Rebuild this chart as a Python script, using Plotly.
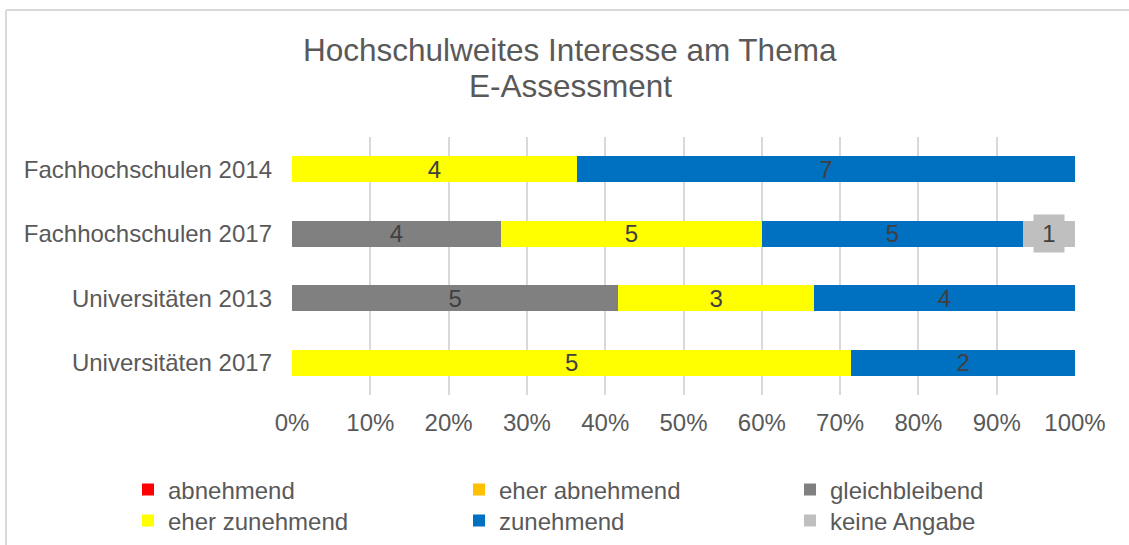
import plotly.graph_objects as go

# ---- data ----
categories = ["Fachhochschulen 2014", "Fachhochschulen 2017", "Universitäten 2013", "Universitäten 2017"]
series_names = ["abnehmend", "eher abnehmend", "gleichbleibend", "eher zunehmend", "zunehmend", "keine Angabe"]
abnehmend = [0, 0, 0, 0]
eher_abnehmend = [0, 0, 0, 0]
gleichbleibend = [0, 4, 5, 0]
eher_zunehmend = [4, 5, 3, 5]
zunehmend = [7, 5, 4, 2]
keine_angabe = [0, 1, 0, 0]
x_ticks = [0, 10, 20, 30, 40, 50, 60, 70, 80, 90, 100]
title_lines = ["Hochschulweites Interesse am Thema", "E-Assessment"]

series_values = [abnehmend, eher_abnehmend, gleichbleibend, eher_zunehmend, zunehmend, keine_angabe]
colors = ["#FF0000", "#FFC000", "#808080", "#FFFF00", "#0070C0", "#BFBFBF"]

W, H = 1129, 545
L, R, T, B = 292, 54, 137, 150
PW, PH = W - L - R, H - T - B


def px_x(px):
    return (px - L) / PW


def px_y(py):
    return 1 - (py - T) / PH


TXT = "#595959"
LAB = "#404040"
FONT = "Liberation Sans, Arial, sans-serif"
FS = 24

fig = go.Figure()
for i, (name, vals, col) in enumerate(zip(series_names, series_values, colors)):
    is_last = name == "keine Angabe"
    texts = ["" if (v == 0 or is_last) else str(v) for v in vals]
    fig.add_trace(go.Bar(
        y=categories, x=vals, name=name, orientation="h",
        marker=dict(color=col, line=dict(width=0)),
        text=texts, textposition="inside", insidetextanchor="middle",
        textangle=0, constraintext="none",
        textfont=dict(color=LAB, size=FS, family=FONT),
        legend="legend" if i < 3 else "legend2",
        hoverinfo="skip",
    ))

annotations = []
# label with background for the small "keine Angabe" segment
for ci, cat in enumerate(categories):
    v = keine_angabe[ci]
    if v:
        total = sum(s[ci] for s in series_values)
        before = sum(s[ci] for s in series_values[:-1])
        xc = (before + v / 2) / total * 100
        annotations.append(dict(
            x=xc, y=cat, xref="x", yref="y", text=str(v), showarrow=False,
            bgcolor="#BFBFBF", font=dict(color=LAB, size=FS, family=FONT),
            width=20, borderpad=5,
        ))

# two-line title
for txt, yc in zip(title_lines, [50, 86]):
    annotations.append(dict(
        x=px_x(570), y=px_y(yc), xref="paper", yref="paper", text=txt,
        showarrow=False, xanchor="center", yanchor="middle",
        font=dict(size=31.5, color=TXT, family=FONT),
    ))

legend_common = dict(
    orientation="h", xanchor="left", yanchor="middle",
    traceorder="normal",
    entrywidth=286, entrywidthmode="pixels",
    font=dict(size=FS, color=TXT, family=FONT),
    bgcolor="rgba(0,0,0,0)", itemclick=False, itemdoubleclick=False,
)

fig.update_layout(
    width=W, height=H,
    margin=dict(l=L, r=R, t=T, b=B, autoexpand=False),
    paper_bgcolor="white", plot_bgcolor="white",
    barmode="stack", barnorm="percent", bargap=0.595,
    font=dict(family=FONT, color=TXT, size=FS),
    showlegend=True,
    xaxis=dict(
        range=[0, 100], tickvals=x_ticks, ticktext=[f"{t}%" for t in x_ticks],
        showgrid=True, gridcolor="#D9D9D9", gridwidth=2,
        zeroline=False, showline=False, ticks="",
        tickfont=dict(size=FS, color=TXT, family=FONT),
        ticklabelstandoff=11, fixedrange=True,
    ),
    yaxis=dict(
        autorange="reversed", showgrid=False, zeroline=False, showline=False,
        ticks="", tickfont=dict(size=FS, color=TXT, family=FONT),
        ticklabelstandoff=19, fixedrange=True,
    ),
    legend=dict(x=px_x(128), y=px_y(490), **legend_common),
    legend2=dict(x=px_x(128), y=px_y(521), **legend_common),
    annotations=annotations,
    shapes=[
        dict(type="line", xref="paper", yref="paper",
             x0=px_x(6), x1=px_x(6), y0=px_y(560), y1=px_y(10),
             line=dict(color="#D9D9D9", width=2)),
        dict(type="line", xref="paper", yref="paper",
             x0=px_x(6), x1=px_x(1140), y0=px_y(10), y1=px_y(10),
             line=dict(color="#D9D9D9", width=2)),
    ],
)

fig.write_html(
    "out.html",
    config={"displayModeBar": False},
    post_script="document.body.style.margin='0';document.body.style.overflow='hidden';",
)
